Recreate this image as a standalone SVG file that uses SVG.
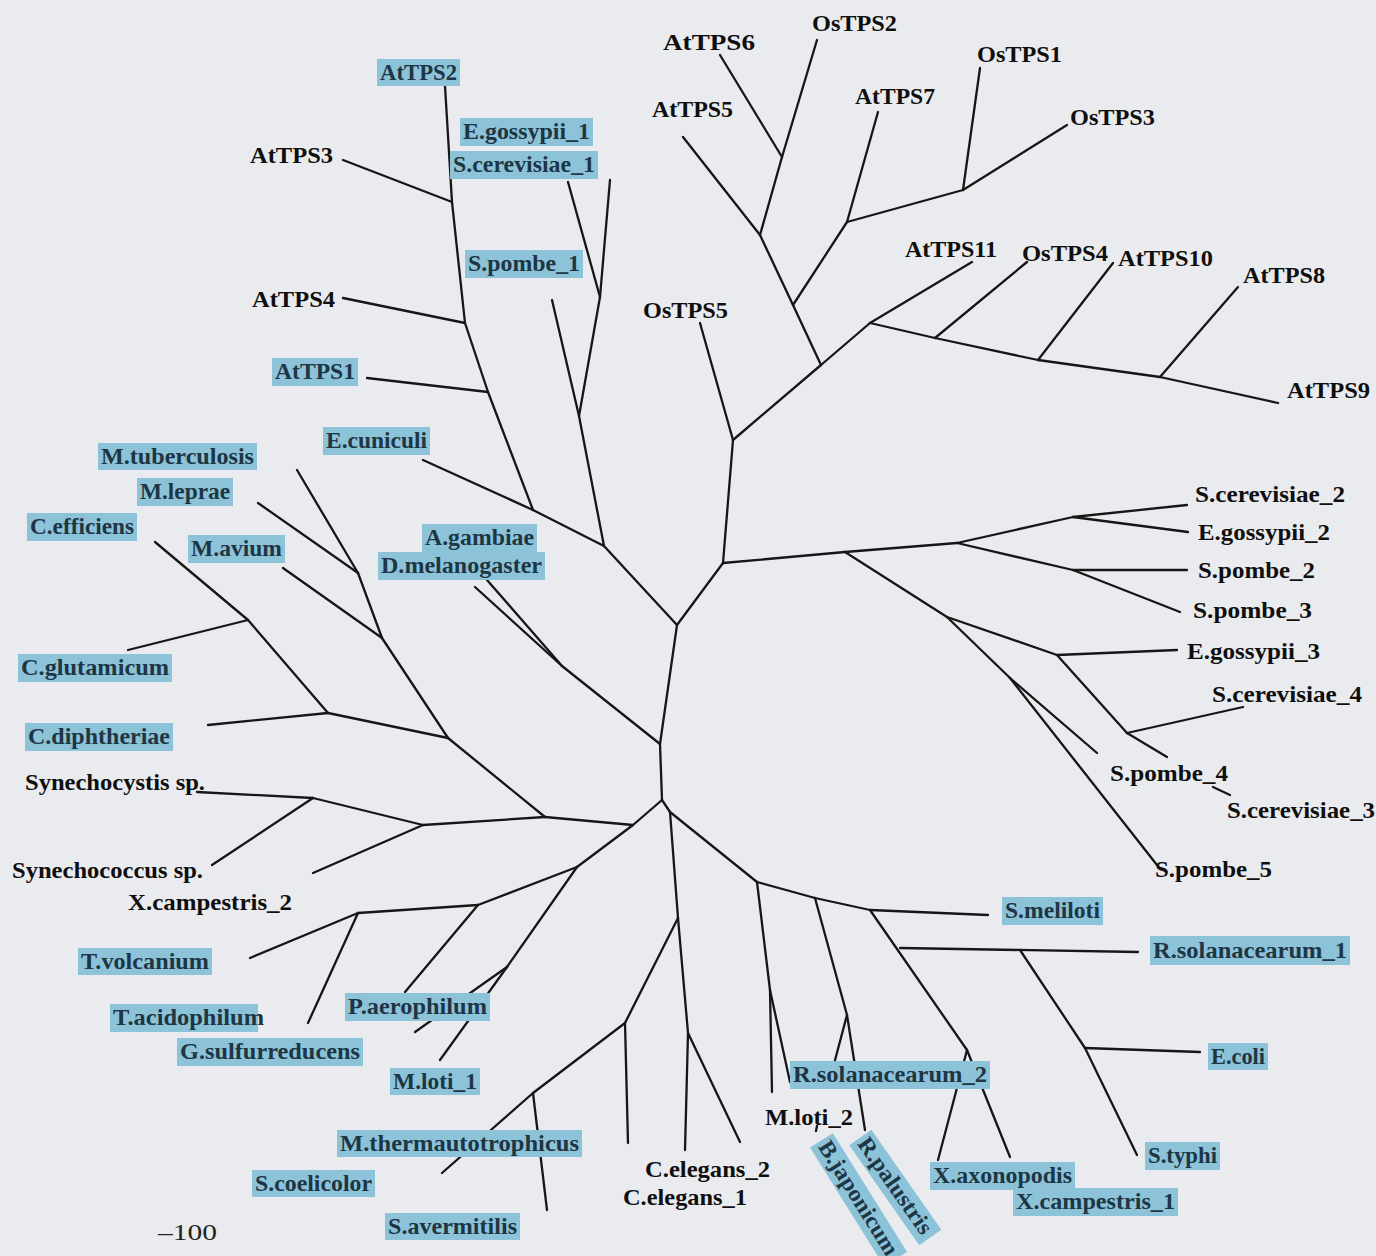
<svg xmlns="http://www.w3.org/2000/svg" width="1376" height="1256" viewBox="0 0 1376 1256">
  <style>
    .br { stroke:#161616; stroke-width:2.3; stroke-linecap:round; fill:none; }
    .hl { fill:#8cc3d9; }
    .t { font-family:"Liberation Serif","Times New Roman",serif; font-weight:bold; font-size:23px; fill:#0f0f0f; }
    .tb { fill:#1e3644; }
    .sc { font-family:"Liberation Serif","Times New Roman",serif; font-size:23px; fill:#222; }
  </style>
  <rect width="1376" height="1256" fill="#eaebee"/>

  <!-- branches of the unrooted tree -->
  <g id="connectors" class="br">
    <!-- centre -->
    <line x1="677" y1="625" x2="723" y2="563"/>
    <line x1="677" y1="625" x2="604" y2="546"/>
    <line x1="677" y1="625" x2="660" y2="744"/>
    <line x1="660" y1="744" x2="562" y2="666"/>
    <line x1="562" y1="666" x2="475" y2="587"/>
    <line x1="562" y1="666" x2="487" y2="580"/>
    <line x1="660" y1="744" x2="662" y2="800"/>
    <line x1="662" y1="800" x2="633" y2="825"/>
    <line x1="633" y1="825" x2="545" y2="817"/>
    <line x1="633" y1="825" x2="577" y2="867"/>
    <line x1="662" y1="800" x2="670" y2="812"/>
    <line x1="670" y1="812" x2="678" y2="918"/>
    <line x1="670" y1="812" x2="757" y2="882"/>
    <!-- AtTPS / fungal class I -->
    <line x1="604" y1="546" x2="579" y2="416"/>
    <line x1="579" y1="416" x2="552" y2="300"/>
    <line x1="579" y1="416" x2="600" y2="297"/>
    <line x1="600" y1="297" x2="610" y2="180"/>
    <line x1="600" y1="297" x2="568" y2="182"/>
    <line x1="604" y1="546" x2="533" y2="510"/>
    <line x1="533" y1="510" x2="423" y2="460"/>
    <line x1="533" y1="510" x2="488" y2="392"/>
    <line x1="488" y1="392" x2="367" y2="378"/>
    <line x1="488" y1="392" x2="465" y2="323"/>
    <line x1="465" y1="323" x2="343" y2="298"/>
    <line x1="465" y1="323" x2="452" y2="202"/>
    <line x1="452" y1="202" x2="343" y2="160"/>
    <line x1="452" y1="202" x2="445" y2="86"/>
    <!-- AtTPS / OsTPS class II -->
    <line x1="723" y1="563" x2="733" y2="440"/>
    <line x1="733" y1="440" x2="700" y2="323"/>
    <line x1="733" y1="440" x2="821" y2="365"/>
    <line x1="821" y1="365" x2="870" y2="323"/>
    <line x1="870" y1="323" x2="972" y2="262"/>
    <line x1="870" y1="323" x2="935" y2="338"/>
    <line x1="935" y1="338" x2="1027" y2="262"/>
    <line x1="935" y1="338" x2="1038" y2="360"/>
    <line x1="1038" y1="360" x2="1113" y2="263"/>
    <line x1="1038" y1="360" x2="1160" y2="377"/>
    <line x1="1160" y1="377" x2="1238" y2="287"/>
    <line x1="1160" y1="377" x2="1278" y2="403"/>
    <line x1="821" y1="365" x2="793" y2="305"/>
    <line x1="793" y1="305" x2="847" y2="222"/>
    <line x1="847" y1="222" x2="878" y2="112"/>
    <line x1="847" y1="222" x2="963" y2="190"/>
    <line x1="963" y1="190" x2="980" y2="68"/>
    <line x1="963" y1="190" x2="1067" y2="125"/>
    <line x1="793" y1="305" x2="760" y2="235"/>
    <line x1="760" y1="235" x2="683" y2="137"/>
    <line x1="760" y1="235" x2="782" y2="157"/>
    <line x1="782" y1="157" x2="720" y2="55"/>
    <line x1="782" y1="157" x2="817" y2="40"/>
    <!-- yeast paralogues -->
    <line x1="723" y1="563" x2="845" y2="552"/>
    <line x1="845" y1="552" x2="957" y2="543"/>
    <line x1="957" y1="543" x2="1073" y2="517"/>
    <line x1="1073" y1="517" x2="1187" y2="505"/>
    <line x1="1073" y1="517" x2="1188" y2="532"/>
    <line x1="957" y1="543" x2="1073" y2="570"/>
    <line x1="1073" y1="570" x2="1187" y2="570"/>
    <line x1="1073" y1="570" x2="1180" y2="612"/>
    <line x1="845" y1="552" x2="947" y2="617"/>
    <line x1="947" y1="617" x2="1057" y2="655"/>
    <line x1="1057" y1="655" x2="1177" y2="650"/>
    <line x1="1057" y1="655" x2="1127" y2="733"/>
    <line x1="1127" y1="733" x2="1243" y2="707"/>
    <line x1="1127" y1="733" x2="1167" y2="757"/>
    <line x1="947" y1="617" x2="1010" y2="678"/>
    <line x1="1010" y1="678" x2="1097" y2="753"/>
    <line x1="1010" y1="678" x2="1157" y2="865"/>
    <line x1="1213" y1="787" x2="1230" y2="795"/>
    <!-- actinobacteria, cyanobacteria, archaea -->
    <line x1="545" y1="817" x2="448" y2="738"/>
    <line x1="448" y1="738" x2="382" y2="638"/>
    <line x1="382" y1="638" x2="283" y2="568"/>
    <line x1="382" y1="638" x2="358" y2="573"/>
    <line x1="358" y1="573" x2="258" y2="503"/>
    <line x1="358" y1="573" x2="297" y2="470"/>
    <line x1="448" y1="738" x2="328" y2="713"/>
    <line x1="328" y1="713" x2="208" y2="725"/>
    <line x1="328" y1="713" x2="248" y2="620"/>
    <line x1="248" y1="620" x2="155" y2="542"/>
    <line x1="248" y1="620" x2="128" y2="650"/>
    <line x1="545" y1="817" x2="423" y2="825"/>
    <line x1="423" y1="825" x2="313" y2="798"/>
    <line x1="313" y1="798" x2="197" y2="792"/>
    <line x1="313" y1="798" x2="212" y2="865"/>
    <line x1="423" y1="825" x2="313" y2="873"/>
    <line x1="577" y1="867" x2="478" y2="905"/>
    <line x1="478" y1="905" x2="358" y2="913"/>
    <line x1="358" y1="913" x2="250" y2="958"/>
    <line x1="358" y1="913" x2="308" y2="1023"/>
    <line x1="478" y1="905" x2="405" y2="992"/>
    <line x1="577" y1="867" x2="507" y2="967"/>
    <line x1="507" y1="967" x2="440" y2="1060"/>
    <line x1="507" y1="967" x2="415" y2="1032"/>
    <!-- nematodes and streptomycetes -->
    <line x1="678" y1="918" x2="625" y2="1023"/>
    <line x1="625" y1="1023" x2="628" y2="1143"/>
    <line x1="625" y1="1023" x2="533" y2="1093"/>
    <line x1="533" y1="1093" x2="547" y2="1210"/>
    <line x1="533" y1="1093" x2="442" y2="1173"/>
    <line x1="678" y1="918" x2="688" y2="1033"/>
    <line x1="688" y1="1033" x2="685" y2="1150"/>
    <line x1="688" y1="1033" x2="740" y2="1142"/>
    <!-- proteobacteria -->
    <line x1="757" y1="882" x2="815" y2="898"/>
    <line x1="757" y1="882" x2="770" y2="990"/>
    <line x1="770" y1="990" x2="772" y2="1092"/>
    <line x1="770" y1="990" x2="790" y2="1082"/>
    <line x1="815" y1="898" x2="870" y2="910"/>
    <line x1="815" y1="898" x2="847" y2="1015"/>
    <line x1="847" y1="1015" x2="834" y2="1064"/>
    <line x1="817" y1="1126" x2="816" y2="1131"/>
    <line x1="847" y1="1015" x2="865" y2="1130"/>
    <line x1="870" y1="910" x2="988" y2="915"/>
    <line x1="870" y1="910" x2="967" y2="1050"/>
    <line x1="900" y1="948" x2="1138" y2="952"/>
    <line x1="1020" y1="950" x2="1085" y2="1048"/>
    <line x1="1085" y1="1048" x2="1200" y2="1052"/>
    <line x1="1085" y1="1048" x2="1137" y2="1155"/>
    <line x1="967" y1="1050" x2="938" y2="1160"/>
    <line x1="967" y1="1050" x2="1010" y2="1157"/>
  </g>

  <!-- leaf labels: plain -->
  <g id="AtTPS3"><text class="t" x="250" y="163" textLength="83" lengthAdjust="spacingAndGlyphs">AtTPS3</text></g>
  <g id="AtTPS4"><text class="t" x="252" y="307" textLength="83" lengthAdjust="spacingAndGlyphs">AtTPS4</text></g>
  <g id="AtTPS6"><text class="t" x="663" y="50" textLength="92" lengthAdjust="spacingAndGlyphs">AtTPS6</text></g>
  <g id="OsTPS2"><text class="t" x="812" y="31" textLength="85" lengthAdjust="spacingAndGlyphs">OsTPS2</text></g>
  <g id="AtTPS5"><text class="t" x="652" y="117" textLength="81" lengthAdjust="spacingAndGlyphs">AtTPS5</text></g>
  <g id="AtTPS7"><text class="t" x="855" y="104" textLength="80" lengthAdjust="spacingAndGlyphs">AtTPS7</text></g>
  <g id="OsTPS1"><text class="t" x="977" y="62" textLength="85" lengthAdjust="spacingAndGlyphs">OsTPS1</text></g>
  <g id="OsTPS3"><text class="t" x="1070" y="125" textLength="85" lengthAdjust="spacingAndGlyphs">OsTPS3</text></g>
  <g id="OsTPS5"><text class="t" x="643" y="318" textLength="85" lengthAdjust="spacingAndGlyphs">OsTPS5</text></g>
  <g id="AtTPS11"><text class="t" x="905" y="257" textLength="92" lengthAdjust="spacingAndGlyphs">AtTPS11</text></g>
  <g id="OsTPS4"><text class="t" x="1022" y="261" textLength="86" lengthAdjust="spacingAndGlyphs">OsTPS4</text></g>
  <g id="AtTPS10"><text class="t" x="1118" y="266" textLength="95" lengthAdjust="spacingAndGlyphs">AtTPS10</text></g>
  <g id="AtTPS8"><text class="t" x="1243" y="283" textLength="82" lengthAdjust="spacingAndGlyphs">AtTPS8</text></g>
  <g id="AtTPS9"><text class="t" x="1287" y="398" textLength="83" lengthAdjust="spacingAndGlyphs">AtTPS9</text></g>
  <g id="S_cerevisiae_2"><text class="t" x="1195" y="502" textLength="150" lengthAdjust="spacingAndGlyphs">S.cerevisiae_2</text></g>
  <g id="E_gossypii_2"><text class="t" x="1198" y="540" textLength="132" lengthAdjust="spacingAndGlyphs">E.gossypii_2</text></g>
  <g id="S_pombe_2"><text class="t" x="1198" y="578" textLength="117" lengthAdjust="spacingAndGlyphs">S.pombe_2</text></g>
  <g id="S_pombe_3"><text class="t" x="1193" y="618" textLength="119" lengthAdjust="spacingAndGlyphs">S.pombe_3</text></g>
  <g id="E_gossypii_3"><text class="t" x="1187" y="659" textLength="133" lengthAdjust="spacingAndGlyphs">E.gossypii_3</text></g>
  <g id="S_cerevisiae_4"><text class="t" x="1212" y="702" textLength="150" lengthAdjust="spacingAndGlyphs">S.cerevisiae_4</text></g>
  <g id="S_pombe_4"><text class="t" x="1110" y="781" textLength="118" lengthAdjust="spacingAndGlyphs">S.pombe_4</text></g>
  <g id="S_cerevisiae_3"><text class="t" x="1227" y="818" textLength="148" lengthAdjust="spacingAndGlyphs">S.cerevisiae_3</text></g>
  <g id="S_pombe_5"><text class="t" x="1155" y="877" textLength="117" lengthAdjust="spacingAndGlyphs">S.pombe_5</text></g>
  <g id="Synechocystis"><text class="t" x="25" y="790" textLength="180" lengthAdjust="spacingAndGlyphs">Synechocystis sp.</text></g>
  <g id="Synechococcus"><text class="t" x="12" y="878" textLength="191" lengthAdjust="spacingAndGlyphs">Synechococcus sp.</text></g>
  <g id="X_campestris_2"><text class="t" x="128" y="910" textLength="164" lengthAdjust="spacingAndGlyphs">X.campestris_2</text></g>
  <g id="C_elegans_2"><text class="t" x="645" y="1177" textLength="125" lengthAdjust="spacingAndGlyphs">C.elegans_2</text></g>
  <g id="C_elegans_1"><text class="t" x="623" y="1205" textLength="124" lengthAdjust="spacingAndGlyphs">C.elegans_1</text></g>
  <g id="M_loti_2"><text class="t" x="765" y="1125" textLength="88" lengthAdjust="spacingAndGlyphs">M.loti_2</text></g>

  <!-- leaf labels: highlighted -->
  <g id="AtTPS2"><rect class="hl" x="377" y="59" width="83" height="27"/><text class="t tb" x="380" y="80" textLength="77" lengthAdjust="spacingAndGlyphs">AtTPS2</text></g>
  <g id="E_gossypii_1"><rect class="hl" x="460" y="118" width="133" height="28"/><text class="t tb" x="463" y="139" textLength="127" lengthAdjust="spacingAndGlyphs">E.gossypii_1</text></g>
  <g id="S_cerevisiae_1"><rect class="hl" x="450" y="151" width="148" height="28"/><text class="t tb" x="453" y="172" textLength="142" lengthAdjust="spacingAndGlyphs">S.cerevisiae_1</text></g>
  <g id="S_pombe_1"><rect class="hl" x="465" y="250" width="118" height="28"/><text class="t tb" x="468" y="271" textLength="112" lengthAdjust="spacingAndGlyphs">S.pombe_1</text></g>
  <g id="AtTPS1"><rect class="hl" x="272" y="358" width="86" height="28"/><text class="t tb" x="275" y="379" textLength="80" lengthAdjust="spacingAndGlyphs">AtTPS1</text></g>
  <g id="E_cuniculi"><rect class="hl" x="323" y="427" width="107" height="28"/><text class="t tb" x="326" y="448" textLength="101" lengthAdjust="spacingAndGlyphs">E.cuniculi</text></g>
  <g id="M_tuberculosis"><rect class="hl" x="98" y="443" width="159" height="27"/><text class="t tb" x="101" y="464" textLength="153" lengthAdjust="spacingAndGlyphs">M.tuberculosis</text></g>
  <g id="M_leprae"><rect class="hl" x="137" y="478" width="96" height="28"/><text class="t tb" x="140" y="499" textLength="90" lengthAdjust="spacingAndGlyphs">M.leprae</text></g>
  <g id="C_efficiens"><rect class="hl" x="27" y="513" width="110" height="28"/><text class="t tb" x="30" y="534" textLength="104" lengthAdjust="spacingAndGlyphs">C.efficiens</text></g>
  <g id="M_avium"><rect class="hl" x="188" y="535" width="97" height="28"/><text class="t tb" x="191" y="556" textLength="91" lengthAdjust="spacingAndGlyphs">M.avium</text></g>
  <g id="A_gambiae"><rect class="hl" x="422" y="524" width="115" height="28"/><text class="t tb" x="425" y="545" textLength="109" lengthAdjust="spacingAndGlyphs">A.gambiae</text></g>
  <g id="D_melanogaster"><rect class="hl" x="378" y="552" width="167" height="28"/><text class="t tb" x="381" y="573" textLength="161" lengthAdjust="spacingAndGlyphs">D.melanogaster</text></g>
  <g id="C_glutamicum"><rect class="hl" x="18" y="654" width="154" height="28"/><text class="t tb" x="21" y="675" textLength="148" lengthAdjust="spacingAndGlyphs">C.glutamicum</text></g>
  <g id="C_diphtheriae"><rect class="hl" x="25" y="723" width="148" height="28"/><text class="t tb" x="28" y="744" textLength="142" lengthAdjust="spacingAndGlyphs">C.diphtheriae</text></g>
  <g id="T_volcanium"><rect class="hl" x="78" y="948" width="134" height="27"/><text class="t tb" x="81" y="969" textLength="128" lengthAdjust="spacingAndGlyphs">T.volcanium</text></g>
  <g id="T_acidophilum"><rect class="hl" x="110" y="1004" width="148" height="28"/><text class="t tb" x="113" y="1025" textLength="151" lengthAdjust="spacingAndGlyphs">T.acidophilum</text></g>
  <g id="G_sulfurreducens"><rect class="hl" x="177" y="1038" width="186" height="28"/><text class="t tb" x="180" y="1059" textLength="180" lengthAdjust="spacingAndGlyphs">G.sulfurreducens</text></g>
  <g id="P_aerophilum"><rect class="hl" x="345" y="993" width="145" height="28"/><text class="t tb" x="348" y="1014" textLength="139" lengthAdjust="spacingAndGlyphs">P.aerophilum</text></g>
  <g id="M_loti_1"><rect class="hl" x="390" y="1068" width="90" height="27"/><text class="t tb" x="393" y="1089" textLength="84" lengthAdjust="spacingAndGlyphs">M.loti_1</text></g>
  <g id="M_thermautotrophicus"><rect class="hl" x="337" y="1130" width="245" height="27"/><text class="t tb" x="340" y="1151" textLength="239" lengthAdjust="spacingAndGlyphs">M.thermautotrophicus</text></g>
  <g id="S_coelicolor"><rect class="hl" x="252" y="1170" width="123" height="27"/><text class="t tb" x="255" y="1191" textLength="117" lengthAdjust="spacingAndGlyphs">S.coelicolor</text></g>
  <g id="S_avermitilis"><rect class="hl" x="385" y="1213" width="135" height="27"/><text class="t tb" x="388" y="1234" textLength="129" lengthAdjust="spacingAndGlyphs">S.avermitilis</text></g>
  <g id="R_solanacearum_2"><rect class="hl" x="790" y="1061" width="200" height="28"/><text class="t tb" x="793" y="1082" textLength="194" lengthAdjust="spacingAndGlyphs">R.solanacearum_2</text></g>
  <g id="S_meliloti"><rect class="hl" x="1002" y="897" width="101" height="28"/><text class="t tb" x="1005" y="918" textLength="95" lengthAdjust="spacingAndGlyphs">S.meliloti</text></g>
  <g id="R_solanacearum_1"><rect class="hl" x="1150" y="936" width="200" height="29"/><text class="t tb" x="1153" y="958" textLength="194" lengthAdjust="spacingAndGlyphs">R.solanacearum_1</text></g>
  <g id="E_coli"><rect class="hl" x="1208" y="1043" width="60" height="27"/><text class="t tb" x="1211" y="1064" textLength="54" lengthAdjust="spacingAndGlyphs">E.coli</text></g>
  <g id="S_typhi"><rect class="hl" x="1145" y="1142" width="75" height="28"/><text class="t tb" x="1148" y="1163" textLength="69" lengthAdjust="spacingAndGlyphs">S.typhi</text></g>
  <g id="X_axonopodis"><rect class="hl" x="930" y="1162" width="145" height="28"/><text class="t tb" x="933" y="1183" textLength="139" lengthAdjust="spacingAndGlyphs">X.axonopodis</text></g>
  <g id="X_campestris_1"><rect class="hl" x="1013" y="1188" width="165" height="28"/><text class="t tb" x="1016" y="1209" textLength="159" lengthAdjust="spacingAndGlyphs">X.campestris_1</text></g>
  <g id="B_japonicum" transform="translate(817.5,1146.4) rotate(58)"><rect class="hl" x="-3" y="-20" width="140" height="27"/><text class="t tb" x="0" y="0" textLength="131" lengthAdjust="spacingAndGlyphs">B.japonicum</text></g>
  <g id="R_palustris" transform="translate(856.7,1143.7) rotate(55)"><rect class="hl" x="-3" y="-20" width="122" height="27"/><text class="t tb" x="0" y="0" textLength="113" lengthAdjust="spacingAndGlyphs">R.palustris</text></g>

  <!-- scale -->
  <g id="scale"><text class="sc" x="158" y="1240" textLength="59" lengthAdjust="spacingAndGlyphs">–100</text></g>
</svg>
